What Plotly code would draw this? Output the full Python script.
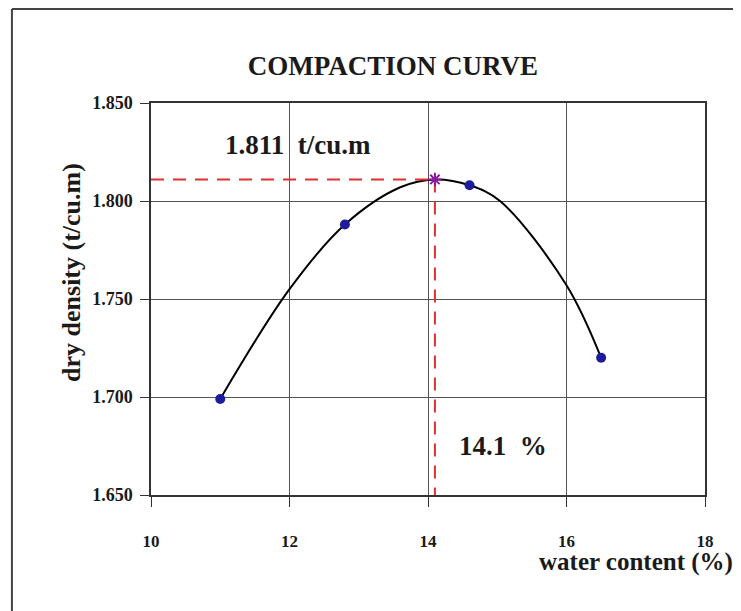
import plotly.graph_objects as go

# measured points
water = [11.0, 12.8, 14.6, 16.5]
density = [1.699, 1.788, 1.808, 1.720]

# fitted curve
curve_x = [11.0, 12.0, 12.8, 13.6, 14.1, 14.6, 15.04, 16.0, 16.5]
curve_y = [1.699, 1.755, 1.788, 1.807, 1.811, 1.808, 1.800, 1.757, 1.720]

omc = 14.1
mdd = 1.811

x_ticks = [10, 12, 14, 16, 18]
y_ticks = [1.650, 1.700, 1.750, 1.800, 1.850]

serif = "Liberation Serif, Times New Roman, serif"
ink = '#1a1a1a'

fig = go.Figure()

fig.add_trace(go.Scatter(x=curve_x, y=curve_y, mode='lines', line_shape='spline',
                         line=dict(color='black', width=2, smoothing=1.0), hoverinfo='skip'))

# dashed guides to the peak
fig.add_trace(go.Scatter(x=[x_ticks[0], omc], y=[mdd, mdd], mode='lines',
                         line=dict(color='#e03030', width=2, dash='13px,9px')))
fig.add_trace(go.Scatter(x=[omc, omc], y=[mdd, y_ticks[0]], mode='lines',
                         line=dict(color='#e03030', width=2, dash='13px,9px')))

fig.add_trace(go.Scatter(x=water, y=density, mode='markers',
                         marker=dict(color='#1c1c9c', size=10)))
fig.add_trace(go.Scatter(x=[omc], y=[mdd], mode='markers',
                         marker=dict(symbol='asterisk-open', size=11, color='#8a1a9a',
                                     line=dict(color='#8a1a9a', width=2))))

fig.add_annotation(x=12.12, y=1.8286, text='<b>1.811  t/cu.m</b>', showarrow=False,
                   font=dict(family=serif, size=27, color=ink))
fig.add_annotation(x=15.08, y=1.675, text='<b>14.1  %</b>', showarrow=False,
                   font=dict(family=serif, size=27, color=ink))
fig.add_annotation(x=1.054, y=-0.17, xref='paper', yref='paper', xanchor='right', yanchor='middle',
                   text='<b>water content (%)</b>', showarrow=False,
                   font=dict(family=serif, size=25, color=ink))
fig.add_annotation(x=-0.1426, y=0.569, xref='paper', yref='paper', xanchor='center', yanchor='middle',
                   textangle=-90, text='<b>dry density (t/cu.m)</b>', showarrow=False,
                   font=dict(family=serif, size=26, color=ink))

# outer frame of the sheet
fig.add_shape(type='line', xref='paper', yref='paper', x0=-0.251, x1=1.1, y0=1.2398, y1=1.2398,
              line=dict(color='#444', width=2))
fig.add_shape(type='line', xref='paper', yref='paper', x0=-0.251, x1=-0.251, y0=1.2398, y1=-0.35,
              line=dict(color='#444', width=2))

fig.update_layout(
    width=733, height=603,
    margin=dict(l=143, r=36, t=95, b=116, autoexpand=False),
    showlegend=False,
    plot_bgcolor='white',
    paper_bgcolor='white',
    title=dict(text='<b>COMPACTION CURVE</b>', x=0.525, xanchor='center', y=0.904, yanchor='middle',
               font=dict(family=serif, size=27, color=ink)),
    font=dict(family=serif, color=ink),
    xaxis=dict(range=[x_ticks[0], x_ticks[-1]], tickvals=x_ticks,
               ticktext=['<b>%d</b>' % t for t in x_ticks],
               showgrid=True, gridcolor='#555', gridwidth=1,
               showline=True, linecolor='#333', linewidth=1.5, mirror=True,
               ticks='outside', ticklen=10, tickcolor='#333',
               ticklabelstandoff=20, tickfont=dict(family=serif, size=17),
               zeroline=False, automargin=False),
    yaxis=dict(range=[y_ticks[0], y_ticks[-1]], tickvals=y_ticks,
               ticktext=['<b>%.3f</b>' % t for t in y_ticks],
               showgrid=True, gridcolor='#555', gridwidth=1,
               showline=True, linecolor='#333', linewidth=1.5, mirror=True,
               ticks='outside', ticklen=9, tickcolor='#333',
               ticklabelstandoff=4, tickfont=dict(family=serif, size=18),
               zeroline=False, automargin=False),
)

fig.write_html("out.html")
